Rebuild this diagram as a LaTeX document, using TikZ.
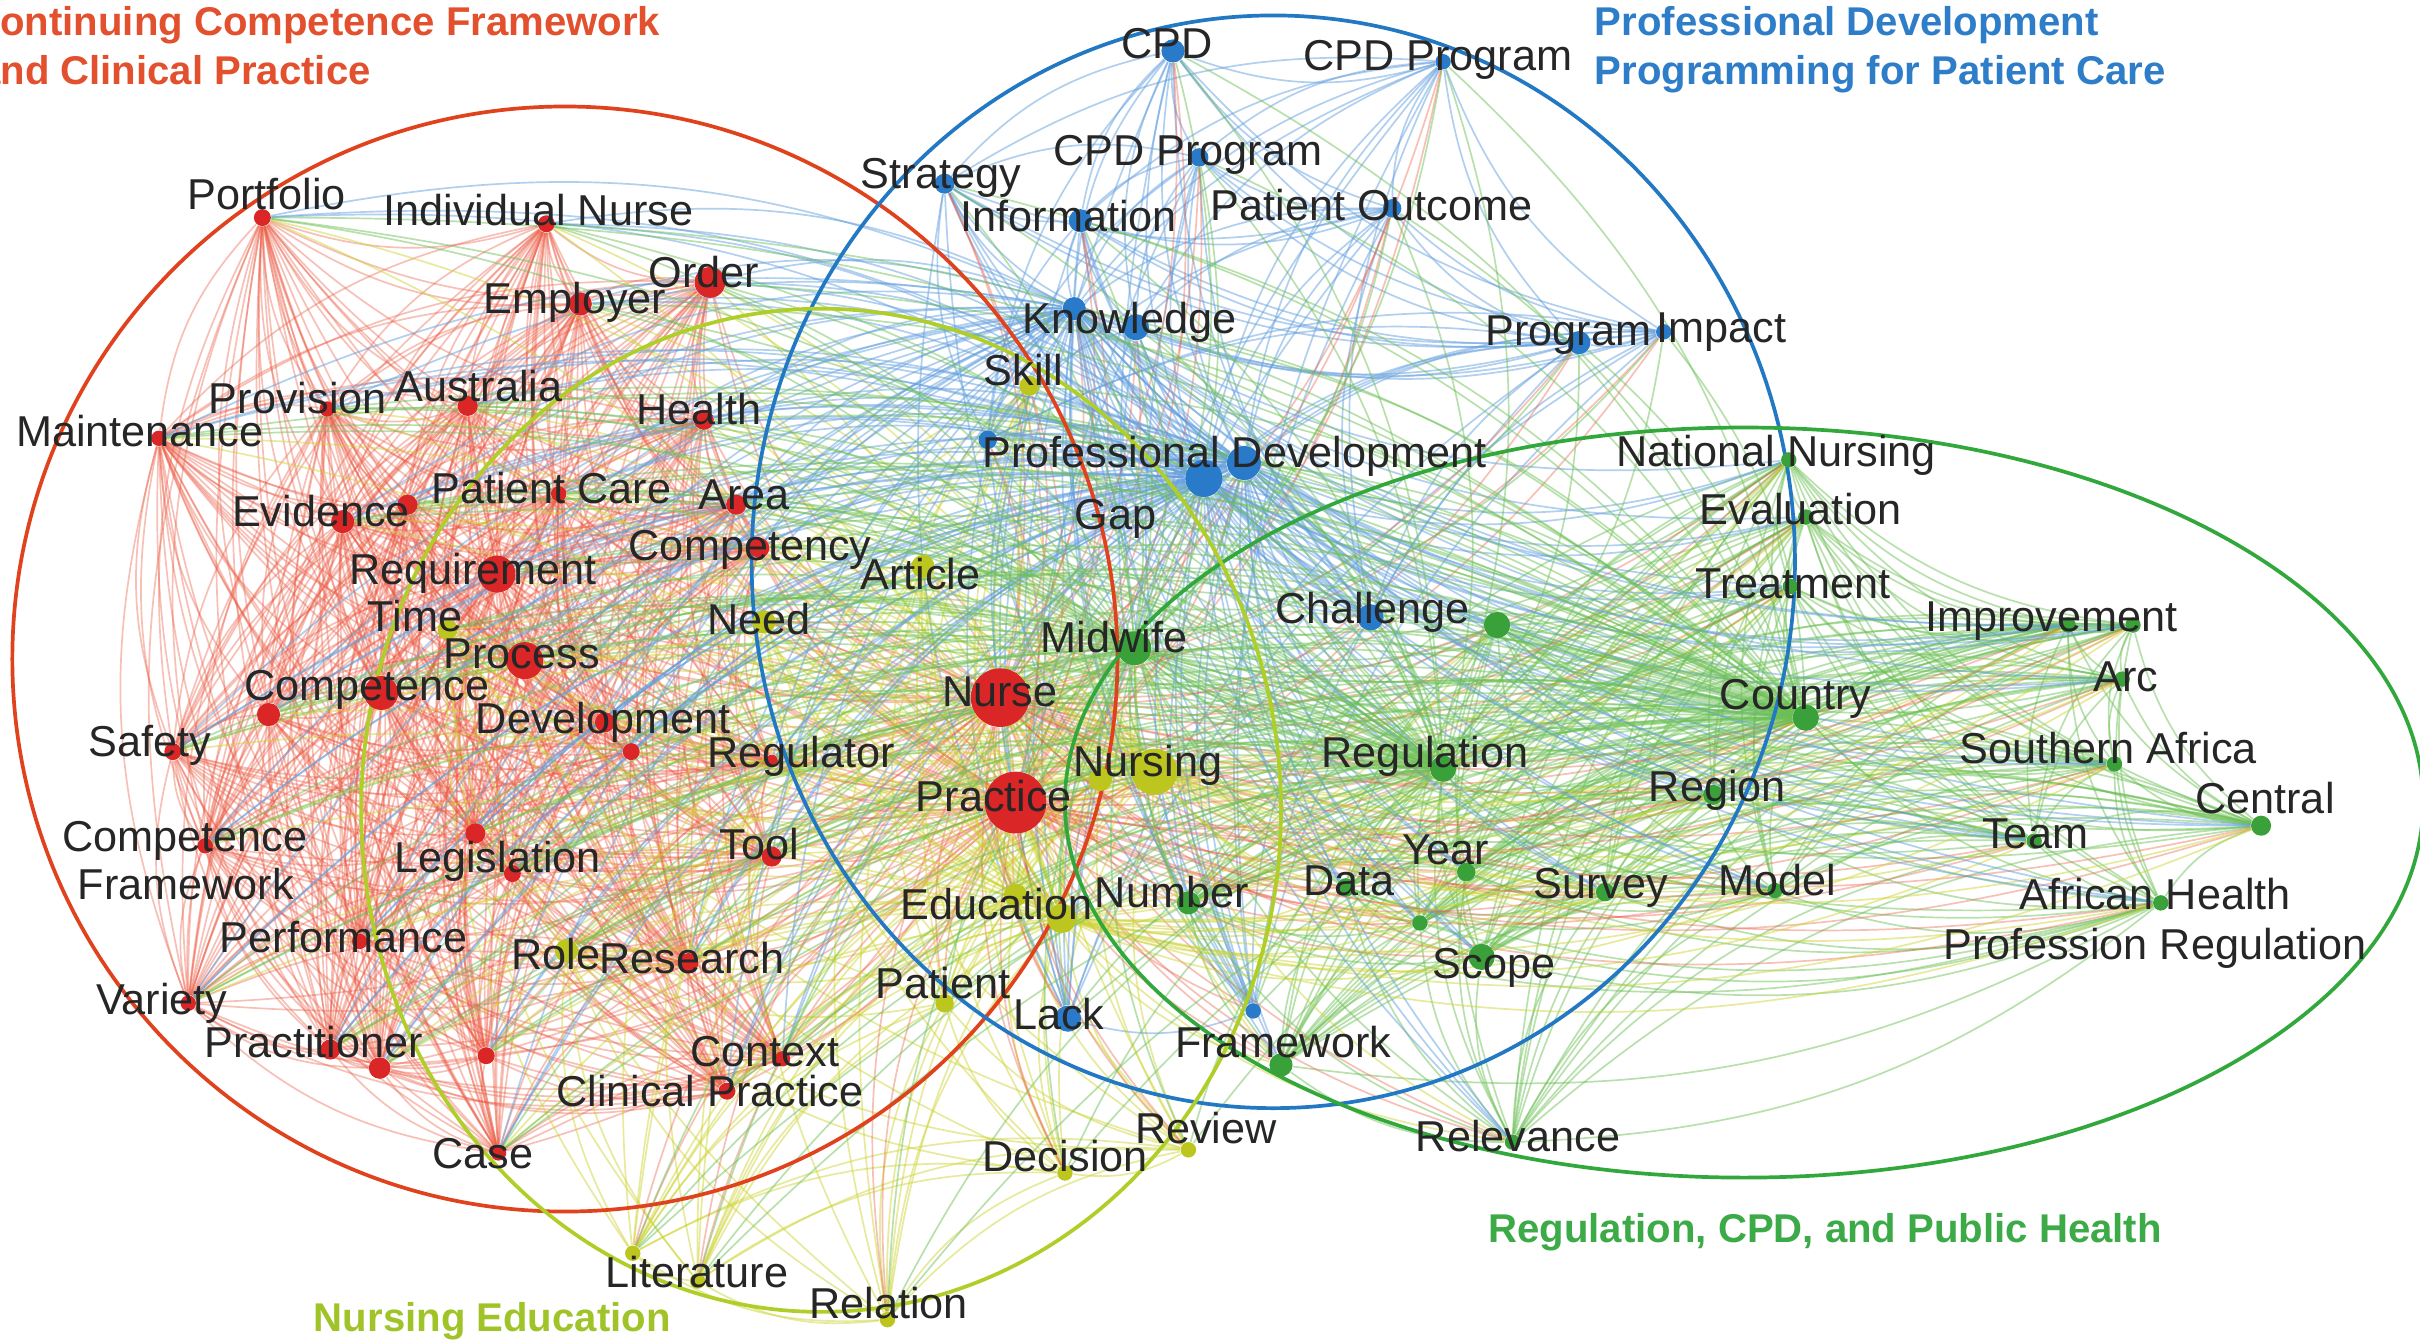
\documentclass[tikz,border=0pt]{standalone}
\usepackage{fontspec}
\setmainfont{Liberation Sans}
\newfontfamily\labfont{Liberation Sans}
\pgfdeclarelayer{bg}
\pgfdeclarelayer{edges}
\pgfsetlayers{bg,edges,main}
\definecolor{cR}{RGB}{218,38,38}
\definecolor{cY}{RGB}{188,198,30}
\definecolor{cB}{RGB}{42,122,202}
\definecolor{cG}{RGB}{58,160,58}
\definecolor{eRc}{RGB}{236,90,66}
\definecolor{eYc}{RGB}{205,212,50}
\definecolor{eBc}{RGB}{100,160,222}
\definecolor{eGc}{RGB}{108,192,84}
\definecolor{tR}{RGB}{226,80,45}
\definecolor{tB}{RGB}{45,125,200}
\definecolor{tG}{RGB}{60,170,70}
\definecolor{tY}{RGB}{160,196,40}
\definecolor{oR}{RGB}{224,66,30}
\definecolor{oB}{RGB}{35,120,196}
\definecolor{oG}{RGB}{50,168,60}
\definecolor{oY}{RGB}{176,206,40}
\definecolor{labc}{RGB}{38,38,38}
\def\Rlist{po,inu,or,em,pv,au,he,ma,ev,evb,pc,ar,cy,rq,ps,ce,ceb,sa,de,deb,rg,cf,le,leb,to,pe,re,va,pt,ptb,ptc,co,cp,ca,nu,pa}
\def\Ylist{tm,ro,sk,at,ne,ng,ngb,ed,edb,pat,dc,rv,li,lib,rl}
\def\Blist{cpd,cpp,cpq,st,inf,pout,kn,knb,prg,imp,pd,pdb,pdc,ch,lk,fwb}
\def\Glist{mw,chg,nn,evl,tr,imv,imvb,arc,ct,saf,cen,tea,rgn,reg,yr,dt,sv,md,nm,sc,scb,fw,rel,ahp}
\begin{document}
\begin{tikzpicture}[x=0.5pt,y=-0.5pt,
  kR/.style={circle,fill=cR,inner sep=0pt,draw=none},
  kY/.style={circle,fill=cY,inner sep=0pt,draw=none},
  kB/.style={circle,fill=cB,inner sep=0pt,draw=none},
  kG/.style={circle,fill=cG,inner sep=0pt,draw=none},
  eR/.style={draw=eRc,line width=0.55pt,opacity=0.38},
  eY/.style={draw=eYc,line width=0.55pt,opacity=0.48},
  eB/.style={draw=eBc,line width=0.55pt,opacity=0.5},
  eG/.style={draw=eGc,line width=0.55pt,opacity=0.48},
  lab/.style={anchor=base west,inner sep=0pt,text=labc,font=\labfont\fontsize{14}{15}\selectfont},
  ttl/.style={anchor=base west,inner sep=0pt,font=\bfseries\fontsize{13}{14}\selectfont}]
\useasboundingbox (0,0) rectangle (1568,868);
\begin{pgfonlayer}{bg}
\fill[white] (0,0) rectangle (1568,868);
\end{pgfonlayer}

% cluster outlines
\draw[oR,line width=1.2pt] (366,427) circle [radius=179pt];
\draw[oB,line width=1.2pt] (825,364) ellipse [x radius=169pt, y radius=177pt];
\draw[oG,line width=1.2pt] (1130,520) ellipse [x radius=220pt, y radius=121.5pt];
\draw[oY,line width=1.2pt] (532,525) ellipse [x radius=149pt, y radius=162.5pt];

% red nodes
\foreach \n/\x/\y/\d in {po/170/141/11,inu/354/145/11,or/460/183/20,em/376/197/15,pv/212/265/10,au/303/263/13,he/456/272/13,ma/103/284/10,ev/222/338/15,evb/264/327/13,pc/362/320/10,ar/477/327/13,cy/492/355/13,rq/322/372/24,ps/340/428/24,ce/174/463/15,ceb/247/449/22,sa/112/487/11,de/392/468/13,deb/409/487/11,rg/500/493/8,cf/133/548/10,le/308/540/13,leb/332/566/11,to/500/555/13,pe/233/610/10,re/446/624/13,va/122/650/10,pt/214/680/13,ptb/246/692/14,ptc/315/684/11,co/507/686/10,cp/471/707/11,ca/323/747/10,nu/648/452/38,pa/658/520/40}
  \node[kR,minimum size=\d*0.5pt] (\n) at (\x,\y) {};
% yellow nodes
\foreach \n/\x/\y/\d in {tm/290/408/13,ro/367/616/15,sk/667/250/13,at/598/367/15,ne/495/403/15,ng/748/500/30,ngb/713/505/15,ed/688/595/19,edb/658/580/15,pat/612/650/12,dc/690/760/10,rv/770/745/10,li/410/812/10,lib/452/830/10,rl/575/855/10}
  \node[kY,minimum size=\d*0.5pt] (\n) at (\x,\y) {};
% blue nodes
\foreach \n/\x/\y/\d in {cpd/760/33/15,cpp/935/40/10,cpq/777/102/12,st/612/119/13,inf/700/143/15,pout/902/135/12,kn/696/200/15,knb/736/212/17,prg/1023/222/15,imp/1078/215/10,pd/780/310/24,pdb/806/300/22,pdc/640/285/12,ch/888/400/17,lk/692/660/17,fwb/812/655/10}
  \node[kB,minimum size=\d*0.5pt] (\n) at (\x,\y) {};
% green nodes
\foreach \n/\x/\y/\d in {mw/735/420/22,chg/970/405/17,nn/1159/298/10,evl/1170/335/10,tr/1160/380/10,imv/1340/405/10,imvb/1382/405/10,arc/1375/440/10,ct/1170/465/17,saf/1370/495/10,cen/1465/535/13,tea/1318/545/10,rgn/1110/515/13,reg/935/498/17,yr/950/565/12,dt/872/575/12,sv/1040/578/12,md/1150/577/10,nm/770/585/15,sc/960/620/17,scb/920/598/10,fw/830/690/15,rel/980/740/10,ahp/1400/585/10}
  \node[kG,minimum size=\d*0.5pt] (\n) at (\x,\y) {};

% edges
\begin{pgfonlayer}{edges}
\foreach \a [count=\i] in \Rlist {\foreach \b [count=\j] in \Rlist {\ifnum\i<\j \draw[eR] (\a) to[bend right=18] (\b);\fi}}
\foreach \a [count=\i] in \Ylist {\foreach \b [count=\j] in \Ylist {\ifnum\i<\j \draw[eY] (\a) to[bend right=18] (\b);\fi}}
\foreach \a [count=\i] in \Blist {\foreach \b [count=\j] in \Blist {\ifnum\i<\j \draw[eB] (\a) to[bend right=18] (\b);\fi}}
\foreach \a [count=\i] in \Glist {\foreach \b [count=\j] in \Glist {\ifnum\i<\j \draw[eG] (\a) to[bend right=18] (\b);\fi}}
\foreach \a in {nu,pa} {\foreach \b in \Ylist {\draw[eR] (\a) to[bend right=18] (\b);}
  \foreach \b in \Blist {\draw[eR] (\a) to[bend right=18] (\b);}
  \foreach \b in \Glist {\draw[eR] (\a) to[bend right=18] (\b);}}
\foreach \a in {ng,ed} {\foreach \b in \Rlist {\draw[eY] (\a) to[bend right=18] (\b);}
  \foreach \b in \Glist {\draw[eY] (\a) to[bend right=18] (\b);}}
\foreach \a in {pd,pdb,kn} {\foreach \b in \Rlist {\draw[eB] (\a) to[bend right=18] (\b);}
  \foreach \b in \Glist {\draw[eB] (\a) to[bend right=18] (\b);}}
\foreach \a in {mw,reg,ct} {\foreach \b in \Rlist {\draw[eG] (\a) to[bend right=18] (\b);}
  \foreach \b in \Ylist {\draw[eG] (\a) to[bend right=18] (\b);}
  \foreach \b in \Blist {\draw[eG] (\a) to[bend right=18] (\b);}}
\end{pgfonlayer}

% labels
\foreach \n/\x/\y/\s in {po/121/136/Portfolio,inu/248/146/Individual Nurse,or/420/186/Order,em/313/203/Employer,pv/135/268/Provision,au/255/260/Australia,he/412/275/Health,ma/10/289/Maintenance,ev/150/341/Evidence,pc/279/326/Patient Care,ar/452/330/Area,cy/407/363/Competency,rq/226/379/Requirement,tm/238/409/Time,ps/287/433/Process,ce/158/454/Competence,de/308/475/Development,sa/57/490/Safety,rg/458/497/Regulator,cf/40/552/Competence,cfb/50/583/Framework,le/255/565/Legislation,to/466/557/Tool,pe/142/617/Performance,ro/331/628/Role,re/388/631/Research,va/62/657/Variety,pt/132/685/Practitioner,co/447/691/Context,cp/360/717/Clinical Practice,ca/280/757/Case,nu/610/458/Nurse,pa/593/526/Practice,at/557/382/Article,ne/458/411/Need,sk/637/250/Skill,ng/695/503/Nursing,ed/583/596/Education,nm/709/588/Number,pat/567/647/Patient,lk/656/667/Lack,fw/761/685/Framework,rv/735/741/Review,dc/636/759/Decision,li/392/834/Literature,rl/524/854/Relation,rel/917/746/Relevance,cpd/726/38/CPD,cpp/844/46/CPD Program,cpq/682/107/CPD Program,st/557/122/Strategy,inf/622/150/Information,pout/784/143/Patient Outcome,kn/662/216/Knowledge,prg/962/224/Program,imp/1073/222/Impact,pd/636/303/Professional Development,gap/696/343/Gap,mw/674/423/Midwife,ch/826/404/Challenge,reg/856/497/Regulation,yr/908/560/Year,dt/844/580/Data,sv/993/582/Survey,md/1113/580/Model,sc/928/634/Scope,rgn/1068/519/Region,ct/1114/460/Country,nn/1047/302/National Nursing,evl/1101/340/Evaluation,tr/1098/388/Treatment,imv/1247/409/Improvement,arc/1356/448/Arc,saf/1269/495/Southern Africa,cen/1422/527/Central,tea/1284/550/Team,ahp/1308/589/African Health,ahpb/1259/622/Profession Regulation}
  \node[lab] (t-\n) at (\x,\y) {\s};

% cluster titles
\node[ttl,text=tR] (ttl1) at (-19,23) {Continuing Competence Framework};
\node[ttl,text=tR] (ttl2) at (-14.5,55) {and Clinical Practice};
\node[ttl,text=tB] (ttl3) at (1033,23) {Professional Development};
\node[ttl,text=tB] (ttl4) at (1033,55) {Programming for Patient Care};
\node[ttl,text=tY] (ttl5) at (203,863) {Nursing Education};
\node[ttl,text=tG] (ttl6) at (964,805) {Regulation, CPD, and Public Health};
\end{tikzpicture}
\end{document}
